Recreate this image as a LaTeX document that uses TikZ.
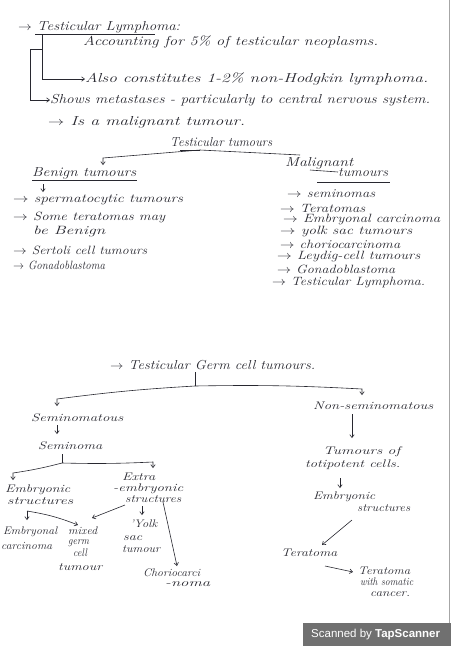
\documentclass[tikz,border=0pt]{standalone}
\usepackage{fontspec}
\usepackage{graphicx}
\usetikzlibrary{arrows.meta}
\newfontfamily\scanfont{Liberation Sans}
\definecolor{ink}{RGB}{40,40,48}
\definecolor{scangray}{RGB}{112,112,112}
\newcommand\fitw[2]{\resizebox{#1pt}{\height}{#2}}
\begin{document}
\begin{tikzpicture}[x=1pt,y=-1pt,
  hw/.style={anchor=west,inner sep=0pt,text=ink,font=\fontsize{13}{15}\selectfont\itshape},
  hl/.style={anchor=west,inner sep=0pt,text=ink,font=\fontsize{12}{14}\selectfont\itshape},
  hs/.style={anchor=west,inner sep=0pt,text=ink,font=\fontsize{11}{13}\selectfont\itshape},
  con/.style={draw=ink,line width=0.6pt},
  arr/.style={con,-{Straight Barb[length=3pt,width=4.5pt]}}]
\useasboundingbox (0,0) rectangle (451,646);
\fill[white] (0,0) rectangle (451,646);
\draw[gray!70,line width=1.2pt] (449.4,0) -- (449.4,623);

% ---------- top notes ----------
\node[hw] (t1) at (18,27) {\fitw{162}{$\rightarrow$ Testicular Lymphoma:}};
\node[hw] (t2) at (83,42) {\fitw{295}{Accounting for 5\% of testicular neoplasms.}};
\node[hw] (t3) at (85,79) {\fitw{343}{Also constitutes 1-2\% non-Hodgkin lymphoma.}};
\node[hw] (t4) at (50,100) {\fitw{380}{Shows metastases - particularly to central nervous system.}};
\node[hw] (t5) at (48,122) {\fitw{197}{$\rightarrow$ Is a malignant tumour.}};
\draw[con] (35,34) -- (155,34);
\coordinate (ib) at (50,34);
\coordinate (ob) at (42,49);
\draw[arr] (ib) -- (42,34) |- (t3.west);
\draw[arr] (ob) -- (30,49) |- (t4.west);

% ---------- testicular tumours ----------
\node[hw] (tt) at (170,142) {\fitw{102}{Testicular tumours}};
\coordinate (tb) at (200,150);
\coordinate (bin) at (103,165);
\coordinate (min) at (300,155);
\draw[con] (180,150) -- (tb);
\draw[arr] (tb) -- (103,158) -- (bin);
\draw[con] (tb) -- (min);

\node[hw] (ben) at (32,173) {\fitw{104}{Benign tumours}};
\draw[con] (32,180) -- (137,180);
\coordinate (bo1) at (43,184);
\coordinate (bo2) at (43,192);
\draw[arr] (bo1) -- (bo2);

\node[hw] (mal1) at (285,163) {\fitw{68}{Malignant}};
\node[hw] (mal2) at (338,172) {\fitw{50}{tumours}};
\coordinate (ms) at (310,170);
\draw[con] (ms) -- (mal2.west);
\draw[con] (317,182) -- (390,182);

\node[hl] (l1) at (13,200) {\fitw{170}{$\rightarrow$ spermatocytic tumours}};
\node[hl] (l2) at (13,217) {\fitw{152}{$\rightarrow$ Some teratomas may}};
\node[hl] (l2b) at (33,232) {\fitw{72}{be Benign}};
\node[hl] (l3) at (13,250) {\fitw{134}{$\rightarrow$ Sertoli cell tumours}};
\node[hl] (l4) at (13,265) {\fitw{92}{$\rightarrow$ Gonadoblastoma}};

\node[hl] (r1) at (287,194) {\fitw{88}{$\rightarrow$ seminomas}};
\node[hl] (r2) at (280,208) {\fitw{85}{$\rightarrow$ Teratomas}};
\node[hl] (r3) at (283,220) {\fitw{157}{$\rightarrow$ Embryonal carcinoma}};
\node[hl] (r4) at (280,232) {\fitw{132}{$\rightarrow$ yolk sac tumours}};
\node[hl] (r5) at (280,244) {\fitw{120}{$\rightarrow$ choriocarcinoma}};
\node[hl] (r6) at (277,257) {\fitw{143}{$\rightarrow$ Leydig-cell tumours}};
\node[hl] (r7) at (277,269) {\fitw{118}{$\rightarrow$ Gonadoblastoma}};
\node[hl] (r8) at (272,283) {\fitw{153}{$\rightarrow$ Testicular Lymphoma.}};

% ---------- germ cell tumours ----------
\node[hw] (gc) at (110,365) {\fitw{205}{$\rightarrow$ Testicular Germ cell tumours.}};
\coordinate (gt) at (195,372);
\coordinate (gb) at (195,386);
\draw[con] (gt) -- (gb);

\node[hs] (sem1) at (31,418) {\fitw{92}{Seminomatous}};
\node[hs] (ns) at (313,406) {\fitw{120}{Non-seminomatous}};
\draw[arr] (gb) to[bend right=2] (57,399) -- (57,406);
\draw[arr] (gb) to[bend left=2] (362,389) -- (362,395);

\node[hs] (sem2) at (38,446) {\fitw{64}{Seminoma}};
\coordinate (s1a) at (57,425);
\coordinate (s1b) at (57,434);
\draw[arr] (s1a) -- (s1b);

\coordinate (st) at (62,454);
\coordinate (sb) at (62,463);
\draw[con] (st) -- (sb);
\draw[arr] (sb) to[bend left=3] (13,473) -- (13,480);
\draw[arr] (sb) to[bend right=2] (153,462) -- (153,468);

\node[hs] (em1) at (5,490) {\fitw{65}{Embryonic}};
\node[hs] (em2) at (7,501) {\fitw{66}{structures}};
\node[hs] (ex1) at (122,477) {\fitw{33}{Extra}};
\node[hs] (ex2) at (113,489) {\fitw{70}{-embryonic}};
\node[hs] (ex3) at (125,499) {\fitw{56}{structures}};

\node[hs] (ec1) at (3,532) {\fitw{54}{Embryonal}};
\node[hs] (ec2) at (1,546) {\fitw{51}{carcinoma}};
\node[hs] (mx1) at (68,531) {\fitw{29}{mixed}};
\node[hs] (mx2) at (68,543) {\fitw{21}{germ}};
\node[hs] (mx3) at (73,553) {\fitw{14}{cell}};
\node[hs] (mx4) at (58,567) {\fitw{44}{tumour}};
\node[hs] (yk1) at (130,524) {\fitw{27}{'Yolk}};
\node[hs] (yk2) at (123,538) {\fitw{19}{sac}};
\node[hs] (yk3) at (122,549) {\fitw{38}{tumour}};
\node[hs] (ch1) at (143,573) {\fitw{57}{Choriocarci}};
\node[hs] (ch2) at (165,584) {\fitw{45}{-noma}};

\coordinate (e1) at (27,511);
\draw[arr] (e1) -- (27,520);
\draw[arr] (e1) to[bend left=6] (78,525);
\coordinate (x1) at (125,505);
\draw[arr] (x1) -- (92,518);
\coordinate (x2) at (142,506);
\draw[arr] (x2) -- (142,515);
\coordinate (x3) at (163,502);
\draw[arr] (x3) -- (177,566);

% ---------- non-seminomatous branch ----------
\node[hs] (tu1) at (323,452) {\fitw{77}{Tumours of}};
\node[hs] (tu2) at (305,465) {\fitw{95}{totipotent cells.}};
\draw[arr] (ns.south -| 352,0) ++(0,4) coordinate (n1) -- (352,438);
\coordinate (n2) at (340,478);
\draw[arr] (n2) -- (340,488);
\node[hs] (emb1) at (313,497) {\fitw{62}{Embryonic}};
\node[hs] (emb2) at (357,508) {\fitw{53}{structures}};
\coordinate (n3) at (352,520);
\draw[arr] (n3) -- (322,545);
\node[hs] (ter) at (281,553) {\fitw{56}{Teratoma}};
\coordinate (n4) at (325,566);
\draw[arr] (n4) -- (353,572);
\node[hs] (tw1) at (358,571) {\fitw{52}{Teratoma}};
\node[hs] (tw2) at (360,582) {\fitw{53}{with somatic}};
\node[hs] (tw3) at (370,594) {\fitw{40}{cancer.}};

% ---------- scanner badge ----------
\fill[scangray] (303,623) rectangle (451,646);
\node[anchor=west,inner sep=0pt,text=white,font=\scanfont\fontsize{11.5}{13}\selectfont] (scan) at (311,634.5) {Scanned by \textbf{TapScanner}};
\end{tikzpicture}
\end{document}
